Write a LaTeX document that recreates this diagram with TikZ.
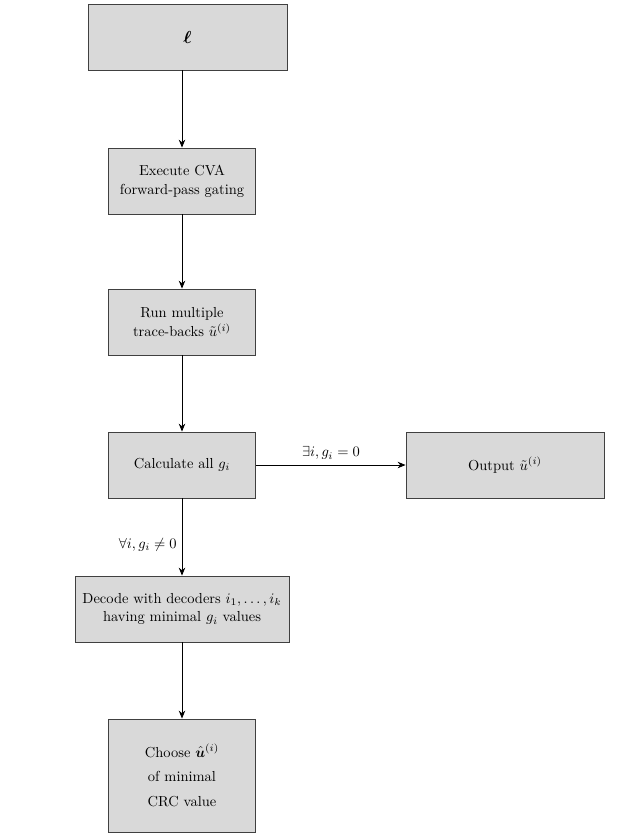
\documentclass[tikz,border=0pt]{standalone}
\usepackage{amsmath,amssymb,bm}
\usetikzlibrary{arrows.meta}
\begin{document}
\begin{tikzpicture}[x=0.69pt,y=-0.69pt,
  blk/.style={rectangle, draw=black!75, line width=0.6pt, fill=gray!30, align=center, inner sep=2pt, minimum height=45.5pt},
  arr/.style={-{Stealth[length=5.5pt,width=4.5pt]}, line width=0.6pt}]
\useasboundingbox (0,0) rectangle (619,835);
\node[blk, minimum width=137.3pt] (l) at (187.5,37) {\large$\boldsymbol{\ell}$};
\node[blk, minimum width=102pt] (exec) at (182,181) {Execute CVA\\[1pt]forward-pass gating};
\node[blk, minimum width=102pt] (run) at (182,322) {Run multiple\\[1pt]trace-backs $\tilde{u}^{(i)}$};
\node[blk, minimum width=102pt] (calc) at (182,465) {Calculate all $g_i$};
\node[blk, minimum width=136.6pt] (out) at (505,465) {Output $\tilde{u}^{(i)}$};
\node[blk, minimum width=147.7pt] (dec) at (182,609) {Decode with decoders $i_1,\ldots,i_k$\\[1pt]having minimal $g_i$ values};
\node[blk, minimum width=102pt, minimum height=78pt] (choose) at (182,775.5) {Choose $\hat{\boldsymbol{u}}^{(i)}$\\[5pt]of minimal\\[5pt]CRC value};
\coordinate (lb) at (182,70);
\draw[arr] (lb) -- (exec);
\draw[arr] (exec) -- (run);
\draw[arr] (run) -- (calc);
\draw[arr] (calc) -- node[above] {$\exists i, g_i = 0$} (out);
\draw[arr] (calc) -- node[left, pos=0.6] {$\forall i, g_i \neq 0$} (dec);
\draw[arr] (dec) -- (choose);
\end{tikzpicture}
\end{document}
